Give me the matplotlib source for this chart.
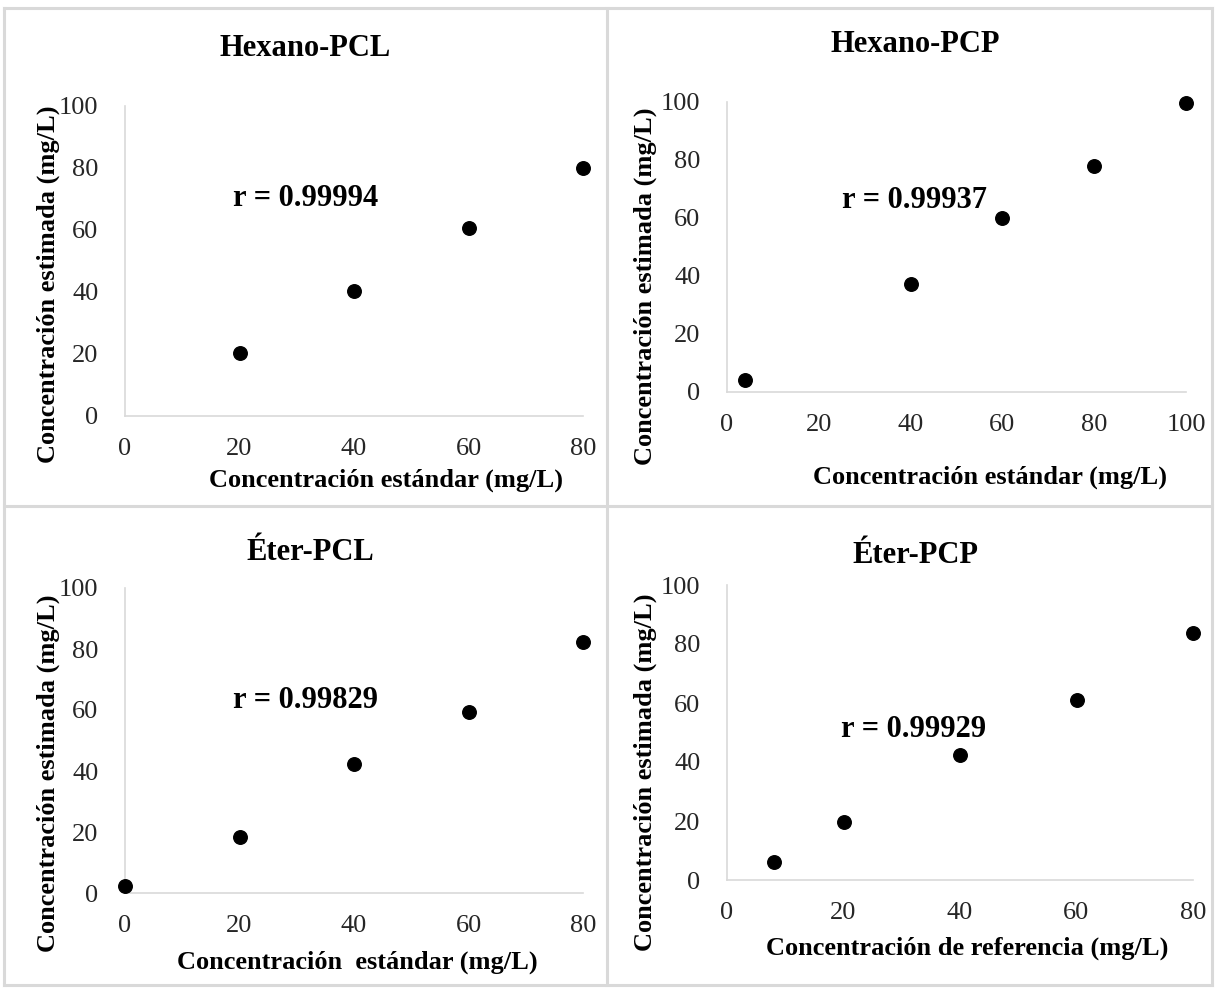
import matplotlib
matplotlib.use("Agg")
import matplotlib.pyplot as plt
from matplotlib.lines import Line2D

plt.rcParams['font.family'] = ['Liberation Serif', 'DejaVu Serif']

# data
hex_pcl_x = [20, 40, 60, 80]
hex_pcl_y = [20.2, 40.2, 60.5, 80.1]

hex_pcp_x = [4, 40, 60, 80, 100]
hex_pcp_y = [4.2, 37.3, 60.0, 77.9, 99.7]

eter_pcl_x = [0, 20, 40, 60, 80]
eter_pcl_y = [2.3, 18.4, 42.3, 59.4, 82.4]

eter_pcp_x = [8, 20, 40, 60, 80]
eter_pcp_y = [6.1, 19.7, 42.4, 61.0, 83.7]

titles = ['Hexano-PCL', 'Hexano-PCP', 'Éter-PCL', 'Éter-PCP']
r_values = ['r = 0.99994', 'r = 0.99937', 'r = 0.99829', 'r = 0.99929']
x_labels = ['Concentración estándar (mg/L)', 'Concentración estándar (mg/L)',
            'Concentración  estándar (mg/L)', 'Concentración de referencia (mg/L)']
y_label = 'Concentración estimada (mg/L)'
x_max = [80, 100, 80, 80]

W, H = 1215, 988
fig = plt.figure(figsize=(W / 100, H / 100), dpi=100)

def fx(px):
    return px / W

def fy(py):
    return 1 - py / H

# axes boxes in pixels: left, right, top, bottom
boxes = [(125, 583, 106, 416), (727, 1186, 102, 392),
         (125, 583, 588, 893), (727, 1193, 585, 880)]
title_pos = [(305, 49), (915, 45), (310, 553), (915, 555)]
xlabel_pos = [(386, 480), (990, 477), (357, 962), (967, 948)]
ylabel_pos = [(48, 284), (645, 286), (48, 773), (645, 772)]
r_pos = [(18.9, 70), (25, 66), (18.9, 63), (19.6, 51)]

series = [(hex_pcl_x, hex_pcl_y), (hex_pcp_x, hex_pcp_y),
          (eter_pcl_x, eter_pcl_y), (eter_pcp_x, eter_pcp_y)]

grey = '#d9d9d9'
for i, (xs, ys) in enumerate(series):
    l, r, t, b = boxes[i]
    ax = fig.add_axes([fx(l), fy(b), fx(r) - fx(l), fy(t) - fy(b)])
    ax.scatter(xs, ys, s=95, color='black', zorder=3, clip_on=False)
    ax.set_xlim(0, x_max[i])
    ax.set_ylim(0, 100)
    ax.set_xticks(range(0, x_max[i] + 1, 20))
    ax.set_yticks(range(0, 101, 20))
    for s in ['top', 'right']:
        ax.spines[s].set_visible(False)
    for s in ['left', 'bottom']:
        ax.spines[s].set_color(grey)
        ax.spines[s].set_linewidth(1.2)
    ax.tick_params(length=0, labelsize=19, colors='#262626', pad=19)
    ax.tick_params(axis='x', pad=16)
    ax.text(r_pos[i][0], r_pos[i][1], r_values[i], fontsize=22, fontweight='bold',
            va='center', ha='left')

    fig.text(fx(title_pos[i][0]), fy(title_pos[i][1]), titles[i], fontsize=22,
             fontweight='bold', ha='center', va='center')
    fig.text(fx(xlabel_pos[i][0]), fy(xlabel_pos[i][1]), x_labels[i], fontsize=19,
             fontweight='bold', ha='center', va='center')
    fig.text(fx(ylabel_pos[i][0]), fy(ylabel_pos[i][1]), y_label, fontsize=19,
             fontweight='bold', ha='center', va='center', rotation=90)

# panel frames
frame = [((4, 4), (8, 985)), ((1212, 1212), (8, 985)), ((4, 1212), (8, 8)),
         ((4, 1212), (985, 985)), ((607, 607), (8, 985)), ((4, 1212), (506, 506))]
for (x0, x1), (y0, y1) in frame:
    fig.add_artist(Line2D([fx(x0), fx(x1)], [fy(y0), fy(y1)], color=grey, lw=2.2))

fig.savefig('out.png', dpi=100)
